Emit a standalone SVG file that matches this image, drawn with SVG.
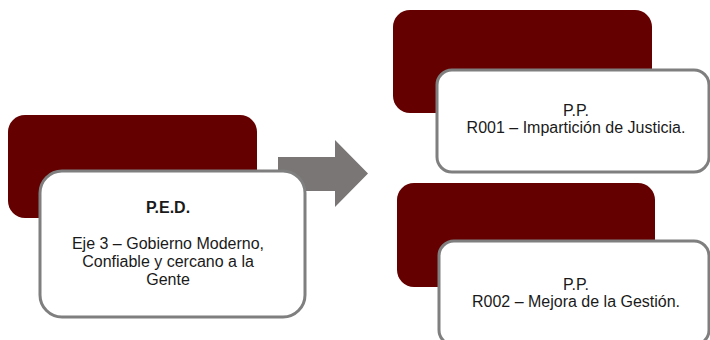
<svg xmlns="http://www.w3.org/2000/svg" width="710" height="340" viewBox="0 0 710 340">
<style>
.dark{fill:#640000;}
.card{fill:#ffffff;stroke:#7f7f7f;stroke-width:3;}
.arrow{fill:#797675;}
text{font-family:"Liberation Sans",Arial,sans-serif;font-size:16px;fill:#1a1a1a;text-anchor:middle;}
.b{font-weight:bold;}
</style>
<rect width="710" height="340" fill="#ffffff"/>
<g id="connectors">
<polygon class="arrow" points="278,157 335,157 335,140 368,173.5 335,207 335,191 278,191"/>
</g>
<g id="node-ped">
<rect class="dark" x="8" y="115" width="249" height="103" rx="17"/>
<rect class="card" x="40" y="171" width="265" height="146" rx="22"/>
<text class="b" x="168" y="213">P.E.D.</text>
<text x="168" y="249">Eje 3 – Gobierno Moderno,</text>
<text x="168" y="267">Confiable y cercano a la</text>
<text x="168" y="285">Gente</text>
</g>
<g id="node-r001">
<rect class="dark" x="393" y="10" width="259" height="103" rx="17"/>
<rect class="card" x="437" y="70" width="272" height="102" rx="15"/>
<text x="576" y="116">P.P.</text>
<text x="576" y="133">R001 – Impartición de Justicia.</text>
</g>
<g id="node-r002">
<rect class="dark" x="397" y="183" width="258" height="104" rx="17"/>
<rect class="card" x="439" y="241" width="270" height="104" rx="15"/>
<text x="576" y="290">P.P.</text>
<text x="576" y="307">R002 – Mejora de la Gestión.</text>
</g>
</svg>
